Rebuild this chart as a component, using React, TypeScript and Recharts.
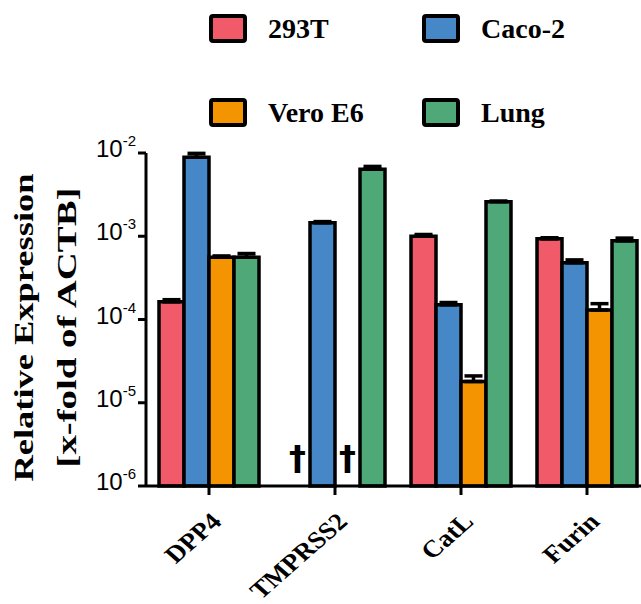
import React from "react";
import { BarChart, Bar, XAxis, YAxis, ErrorBar, Label, Rectangle } from "recharts";

// genes on the x axis, one series per cell line (null = not detected, marked with a dagger)
const genes = ["DPP4", "TMPRSS2", "CatL", "Furin"];
const cellLines = ["293T", "Caco-2", "Vero E6", "Lung"];
const cellColors = ["#F05A69", "#4687C8", "#F39400", "#4EA878"];

const expr293T = [1.63e-4, null, 1.0e-3, 9.3e-4];
const exprCaco2 = [8.9e-3, 1.45e-3, 1.5e-4, 4.8e-4];
const exprVero = [5.6e-4, null, 1.8e-5, 1.3e-4];
const exprLung = [5.6e-4, 6.4e-3, 2.6e-3, 8.8e-4];

// upper error (SEM) per bar
const err293T = [0.1e-4, null, 0.05e-3, 0.3e-4];
const errCaco2 = [1.0e-3, 0.05e-3, 0.1e-4, 0.4e-4];
const errVero = [0.2e-4, null, 0.3e-5, 0.25e-4];
const errLung = [0.6e-4, 0.5e-3, 0.05e-3, 0.7e-4];

const yTicks = [1e-6, 1e-5, 1e-4, 1e-3, 1e-2];
const yFloor = yTicks[0];

const seriesValues = [expr293T, exprCaco2, exprVero, exprLung];
const seriesErrors = [err293T, errCaco2, errVero, errLung];
const keys = ["c0", "c1", "c2", "c3"];

const rows = genes.map((gene, i) => {
  const row: Record<string, any> = { gene };
  keys.forEach((k, s) => {
    row[k] = seriesValues[s][i];
    const e = seriesErrors[s][i];
    row[k + "Err"] = e == null ? null : [0, e];
  });
  return row;
});

const serif = "'Liberation Serif', 'Times New Roman', serif";
const sans = "'Liberation Sans', Arial, sans-serif";

function PowerTick(props: any) {
  const { x, y, payload } = props;
  const exp = Math.round(Math.log10(payload.value));
  return (
    <text x={x} y={y + 4} textAnchor="end" fontFamily={sans} fontSize={24} fill="#000">
      10
      <tspan dy={-11} fontSize={15}>
        {exp}
      </tspan>
    </text>
  );
}

function GeneTick(props: any) {
  const { x, y, payload } = props;
  return (
    <g transform={`translate(${x + 14},${y + 26})`}>
      <text
        transform="scale(1.14,1) rotate(-45)"
        textAnchor="end"
        fontFamily={serif}
        fontWeight="bold"
        fontSize={24}
        fill="#000"
      >
        {payload.value}
      </text>
    </g>
  );
}

// not-detected bars sit on the axis floor and get a dagger instead of a rectangle
function CellBar(props: any) {
  const { x, y, width, height, payload, keyName } = props;
  if (payload[keyName] == null) {
    return (
      <text
        x={x + width / 2}
        y={y + height - 16}
        textAnchor="middle"
        fontFamily="'DejaVu Sans', sans-serif"
        fontWeight="bold"
        fontSize={34}
        fill="#000"
      >
        †
      </text>
    );
  }
  return <Rectangle {...props} />;
}

function YTitle(props: any) {
  const { viewBox } = props;
  const cy = viewBox.y + viewBox.height / 2 + 8;
  const x1 = viewBox.x + 33;
  const x2 = viewBox.x + 76;
  return (
    <g fontFamily={serif} fontWeight="bold" fontSize={27} fill="#000">
      <text x={x1} y={cy} textAnchor="middle" transform={`rotate(-90, ${x1}, ${cy})`} textLength={308} lengthAdjust="spacingAndGlyphs">
        Relative Expression
      </text>
      <text x={x2} y={cy} textAnchor="middle" transform={`rotate(-90, ${x2}, ${cy})`} textLength={280} lengthAdjust="spacingAndGlyphs">
        [x-fold of ACTB]
      </text>
    </g>
  );
}

function CellLegend() {
  return (
    <div
      style={{
        position: "absolute",
        left: 209,
        top: 14,
        display: "grid",
        gridTemplateColumns: "213px 200px",
        rowGap: 55,
      }}
    >
      {cellLines.map((name, i) => (
        <div key={name} style={{ display: "flex", alignItems: "center", height: 29 }}>
          <div
            style={{
              width: 38,
              height: 29,
              boxSizing: "border-box",
              border: "4px solid #000",
              borderRadius: 4,
              background: cellColors[i],
            }}
          />
          <span
            style={{
              marginLeft: 21,
              fontFamily: serif,
              fontWeight: "bold",
              fontSize: 28,
              color: "#000",
              whiteSpace: "nowrap",
            }}
          >
            {name}
          </span>
        </div>
      ))}
    </div>
  );
}

export default function App() {
  return (
    <div
      style={{
        position: "absolute",
        left: 0,
        top: 0,
        width: 641,
        height: 604,
        overflow: "hidden",
        background: "#fff",
      }}
    >
      <BarChart
        width={660}
        height={604}
        data={rows}
        margin={{ top: 153, right: 10, bottom: 0, left: 0 }}
        barCategoryGap={13}
        barGap={0}
      >
        <XAxis
          dataKey="gene"
          axisLine={{ stroke: "#000", strokeWidth: 3 }}
          tickLine={{ stroke: "#000", strokeWidth: 3 }}
          tickSize={9}
          tickMargin={2}
          tick={<GeneTick />}
          interval={0}
          height={118}
        />
        <YAxis
          scale="log"
          domain={[1e-6, 1e-2]}
          ticks={yTicks}
          width={146}
          axisLine={{ stroke: "#000", strokeWidth: 3 }}
          tickLine={{ stroke: "#000", strokeWidth: 3 }}
          tickSize={8}
          tickMargin={2}
          tick={<PowerTick />}
          interval={0}
        >
          <Label content={<YTitle />} />
        </YAxis>
        {keys.map((k, s) => (
          <Bar
            key={k}
            dataKey={(row: any) => row[k] ?? yFloor}
            name={cellLines[s]}
            fill={cellColors[s]}
            stroke="#000"
            strokeWidth={3.5}
            shape={<CellBar keyName={k} />}
            isAnimationActive={false}
          >
            <ErrorBar dataKey={k + "Err"} direction="y" width={9} stroke="#000" strokeWidth={3.5} />
          </Bar>
        ))}
      </BarChart>
      <CellLegend />
    </div>
  );
}
